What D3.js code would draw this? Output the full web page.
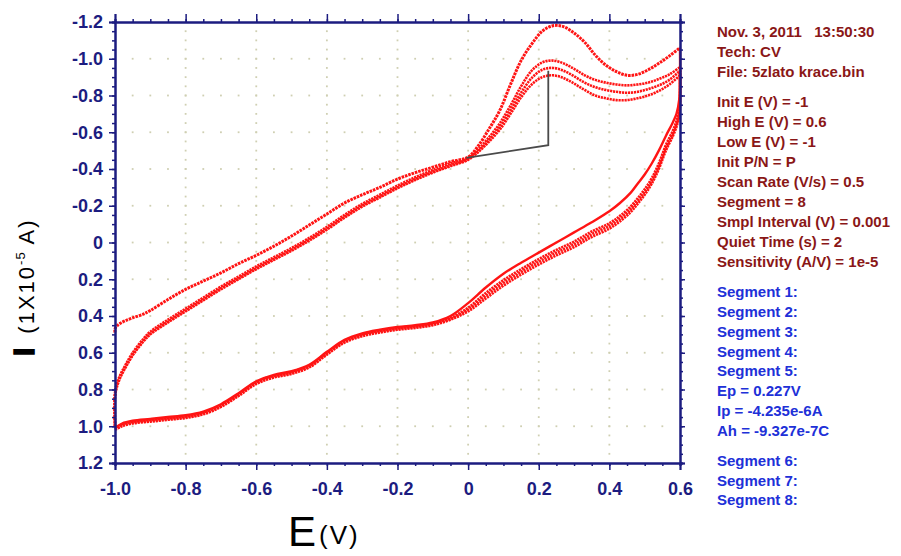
<!DOCTYPE html>
<html><head><meta charset="utf-8">
<script src="https://cdn.jsdelivr.net/npm/d3@7"></script>
<style>body{margin:0;background:#fff}svg{display:block}</style>
</head><body>
<svg id="c" width="901" height="556"></svg>
<script>
// ---------- data ----------
const xTickLabels = ["-1.0","-0.8","-0.6","-0.4","-0.2","0","0.2","0.4","0.6"];
const xTickValues = [-1.0,-0.8,-0.6,-0.4,-0.2,0,0.2,0.4,0.6];
const yTickLabels = ["-1.2","-1.0","-0.8","-0.6","-0.4","-0.2","0","0.2","0.4","0.6","0.8","1.0","1.2"];
const yTickValues = [-1.2,-1.0,-0.8,-0.6,-0.4,-0.2,0,0.2,0.4,0.6,0.8,1.0,1.2];

// forward scans (E from -1 to 0.6)
const E_fwd = [-1.0,-1.0,-0.995,-0.985,-0.97,-0.95,-0.92,-0.9,-0.85,-0.8,-0.75,-0.7,-0.65,-0.6,-0.55,-0.5,-0.45,-0.4,-0.35,-0.3,-0.25,-0.2,-0.15,-0.1,-0.05,0,0.03,0.06,0.09,0.12,0.15,0.18,0.21,0.24,0.27,0.3,0.33,0.36,0.39,0.42,0.45,0.48,0.51,0.54,0.57,0.6];
const seg1 = [0.49,0.47,0.455,0.44,0.425,0.41,0.39,0.37,0.31,0.255,0.21,0.165,0.115,0.07,0.02,-0.035,-0.095,-0.155,-0.215,-0.26,-0.30,-0.345,-0.38,-0.41,-0.44,-0.465,-0.53,-0.62,-0.72,-0.86,-0.99,-1.08,-1.15,-1.18,-1.175,-1.14,-1.09,-1.02,-0.965,-0.93,-0.91,-0.915,-0.94,-0.975,-1.015,-1.06];
const seg3 = [1.0,0.82,0.77,0.72,0.665,0.6,0.525,0.485,0.42,0.36,0.30,0.24,0.185,0.13,0.08,0.03,-0.025,-0.085,-0.15,-0.21,-0.26,-0.31,-0.355,-0.395,-0.43,-0.46,-0.51,-0.575,-0.65,-0.745,-0.85,-0.935,-0.98,-0.99,-0.975,-0.945,-0.91,-0.885,-0.87,-0.86,-0.855,-0.86,-0.87,-0.89,-0.915,-0.955];
const seg5 = [1.0,0.83,0.78,0.73,0.675,0.61,0.535,0.495,0.43,0.37,0.31,0.25,0.195,0.14,0.09,0.04,-0.015,-0.075,-0.14,-0.2,-0.25,-0.3,-0.345,-0.385,-0.42,-0.455,-0.5,-0.56,-0.63,-0.72,-0.815,-0.895,-0.94,-0.95,-0.935,-0.905,-0.87,-0.845,-0.83,-0.82,-0.815,-0.82,-0.835,-0.855,-0.885,-0.935];
const seg7 = [1.0,0.84,0.79,0.735,0.68,0.615,0.54,0.5,0.435,0.375,0.315,0.255,0.2,0.145,0.095,0.045,-0.01,-0.07,-0.135,-0.195,-0.245,-0.295,-0.34,-0.38,-0.415,-0.45,-0.495,-0.55,-0.615,-0.7,-0.79,-0.86,-0.9,-0.91,-0.895,-0.865,-0.83,-0.80,-0.785,-0.775,-0.775,-0.785,-0.80,-0.825,-0.86,-0.91];

// reverse scans (E from 0.6 to -1)
const E_rev = [0.6,0.6,0.598,0.59,0.58,0.56,0.54,0.52,0.5,0.48,0.46,0.43,0.4,0.35,0.3,0.25,0.2,0.15,0.1,0.05,0,-0.05,-0.1,-0.15,-0.2,-0.25,-0.3,-0.35,-0.4,-0.45,-0.5,-0.55,-0.6,-0.65,-0.7,-0.75,-0.8,-0.85,-0.9,-0.95,-0.98,-1.0];
const seg2 = [-1.06,-0.88,-0.78,-0.70,-0.655,-0.58,-0.50,-0.43,-0.37,-0.32,-0.27,-0.215,-0.17,-0.11,-0.055,0.0,0.055,0.11,0.17,0.245,0.33,0.40,0.435,0.45,0.46,0.475,0.495,0.53,0.595,0.665,0.70,0.72,0.755,0.82,0.88,0.92,0.94,0.95,0.96,0.97,0.985,1.01];
const seg4 = [-0.955,-0.80,-0.72,-0.66,-0.61,-0.53,-0.43,-0.35,-0.29,-0.24,-0.195,-0.145,-0.105,-0.06,-0.005,0.04,0.09,0.145,0.205,0.275,0.355,0.41,0.44,0.455,0.465,0.48,0.5,0.535,0.6,0.67,0.705,0.725,0.76,0.825,0.885,0.925,0.945,0.955,0.965,0.975,0.99,1.01];
const seg6 = [-0.935,-0.78,-0.705,-0.645,-0.595,-0.515,-0.415,-0.335,-0.275,-0.225,-0.18,-0.13,-0.09,-0.045,0.01,0.055,0.105,0.16,0.22,0.29,0.365,0.415,0.445,0.46,0.47,0.485,0.505,0.54,0.605,0.675,0.71,0.73,0.765,0.83,0.89,0.93,0.95,0.96,0.97,0.98,0.995,1.015];
const seg8 = [-0.91,-0.76,-0.69,-0.63,-0.58,-0.50,-0.40,-0.32,-0.26,-0.21,-0.165,-0.115,-0.075,-0.03,0.025,0.07,0.12,0.175,0.235,0.305,0.375,0.42,0.45,0.465,0.475,0.49,0.51,0.545,0.61,0.68,0.715,0.735,0.77,0.835,0.895,0.935,0.955,0.965,0.975,0.985,1.0,1.02];

// peak baseline marker
const baseE = [-0.005, 0.227, 0.227];
const baseI = [-0.46, -0.53, -0.935];

const infoRed = ["Nov. 3, 2011   13:50:30","Tech: CV","File: 5zlato krace.bin"];
const infoParams = ["Init E (V) = -1","High E (V) = 0.6","Low E (V) = -1","Init P/N = P","Scan Rate (V/s) = 0.5","Segment = 8","Smpl Interval (V) = 0.001","Quiet Time (s) = 2","Sensitivity (A/V) = 1e-5"];
const infoBlue1 = ["Segment 1:","Segment 2:","Segment 3:","Segment 4:","Segment 5:","Ep = 0.227V","Ip = -4.235e-6A","Ah = -9.327e-7C"];
const infoBlue2 = ["Segment 6:","Segment 7:","Segment 8:"];

// ---------- drawing ----------
const svg = d3.select("#c");
const L = 115, R = 680, T = 22, B = 463;
const x = d3.scaleLinear().domain([-1.0, 0.6]).range([L, R]);
const y = d3.scaleLinear().domain([-1.2, 1.2]).range([T, B]);
const navy = "#1c1c80";
const font = "'Liberation Sans', Arial, sans-serif";

// grid dots
const gGrid = svg.append("g").attr("fill", "#cfcfb2");
const vLines = xTickValues.slice(1, -1);
const hLines = yTickValues.slice(1, -1);
const yMinor = d3.range(-1.15, 1.16, 0.05);
const xMinor = d3.range(-0.95, 0.56, 0.05);
vLines.forEach(v => yMinor.forEach(u => gGrid.append("rect").attr("x", x(v) - 0.9).attr("y", y(u) - 0.9).attr("width", 1.8).attr("height", 1.8)));
hLines.forEach(u => xMinor.forEach(v => gGrid.append("rect").attr("x", x(v) - 0.9).attr("y", y(u) - 0.9).attr("width", 1.8).attr("height", 1.8)));

// curves
const line = d3.line().x(d => x(d[0])).y(d => y(d[1])).curve(d3.curveCatmullRom.alpha(0.5));
const red = "#ff1414";
function drawSeg(E, I, w, dash) {
  const pts = E.map((e, i) => [e, I[i]]);
  const p = svg.append("path").datum(pts).attr("d", line).attr("fill", "none")
    .attr("stroke", red).attr("stroke-width", w).attr("stroke-linejoin", "round");
  if (dash) p.attr("stroke-dasharray", dash);
}
drawSeg(E_rev, seg8, 2.6, "2.2,0.8");
drawSeg(E_rev, seg6, 2.6, "2.2,0.8");
drawSeg(E_rev, seg4, 2.6, "2.2,0.8");
drawSeg(E_rev, seg2, 2.4, null);
drawSeg(E_fwd, seg7, 2.6, "2.2,0.8");
drawSeg(E_fwd, seg5, 2.6, "2.2,0.8");
drawSeg(E_fwd, seg3, 2.6, "2.2,0.8");
drawSeg(E_fwd, seg1, 3.0, "2.6,0.9");

// baseline
svg.append("path").datum(baseE.map((e, i) => [e, baseI[i]]))
  .attr("d", d3.line().x(d => x(d[0])).y(d => y(d[1])))
  .attr("fill", "none").attr("stroke", "#4a4a4a").attr("stroke-width", 1.8);

// axes
function styleAxis(g) {
  g.selectAll(".domain").attr("stroke", navy).attr("stroke-width", 2);
  g.selectAll(".tick line").attr("stroke", navy).attr("stroke-width", 1.5);
}
const xMinorT = d3.range(-1.0, 0.61, 0.05);
const yMinorT = d3.range(-1.2, 1.21, 0.05);
[[d3.axisTop(x).tickValues(xMinorT), T], [d3.axisBottom(x).tickValues(xMinorT), B]].forEach(([ax, pos]) => {
  styleAxis(svg.append("g").attr("transform", `translate(0,${pos})`).call(ax.tickSize(3).tickFormat("")));
});
[[d3.axisLeft(y).tickValues(yMinorT), L], [d3.axisRight(y).tickValues(yMinorT), R]].forEach(([ax, pos]) => {
  styleAxis(svg.append("g").attr("transform", `translate(${pos},0)`).call(ax.tickSize(3).tickFormat("")));
});
const gxTop = svg.append("g").attr("transform", `translate(0,${T})`)
  .call(d3.axisTop(x).tickValues(xTickValues).tickSize(8).tickFormat(""));
styleAxis(gxTop);
const gxB = svg.append("g").attr("transform", `translate(0,${B})`)
  .call(d3.axisBottom(x).tickValues(xTickValues).tickSize(7).tickPadding(8).tickFormat((d, i) => xTickLabels[i]));
styleAxis(gxB);
gxB.selectAll("text").attr("font-family", font).attr("font-weight", "bold").attr("font-size", 18).attr("fill", navy).attr("y", 19);
const gyL = svg.append("g").attr("transform", `translate(${L},0)`)
  .call(d3.axisLeft(y).tickValues(yTickValues).tickSize(6).tickPadding(6).tickFormat((d, i) => yTickLabels[i]));
styleAxis(gyL);
gyL.selectAll("text").attr("font-family", font).attr("font-weight", "bold").attr("font-size", 18).attr("fill", navy);
const gyR = svg.append("g").attr("transform", `translate(${R},0)`)
  .call(d3.axisRight(y).tickValues(yTickValues).tickSize(5).tickFormat(""));
styleAxis(gyR);

// axis titles
const xt = svg.append("text").attr("x", 288).attr("y", 546).attr("font-family", font).attr("fill", "#000");
xt.append("tspan").attr("font-size", 42).text("E");
xt.append("tspan").attr("font-size", 26).attr("dx", 3).attr("dy", -2).attr("letter-spacing", 2).text("(V)");

const yt = svg.append("text").attr("transform", "translate(34,356) rotate(-90)").attr("font-family", font).attr("fill", "#000");
yt.append("tspan").attr("font-size", 30).attr("font-weight", "bold").attr("stroke", "#000").attr("stroke-width", 1.5).text("I");
yt.append("tspan").attr("font-size", 22).attr("dx", 14).attr("letter-spacing", 2).text("(1X10");
yt.append("tspan").attr("font-size", 13).attr("dy", -9).attr("letter-spacing", 1).text("-5");
yt.append("tspan").attr("font-size", 22).attr("dy", 9).attr("letter-spacing", 2).text(" A)");

// info panel
const darkRed = "#8a1717", blue = "#2030d8";
function info(lines, y0, step, color) {
  svg.append("g").selectAll("text").data(lines).join("text")
    .attr("x", 717).attr("y", (d, i) => y0 + i * step)
    .attr("font-family", font).attr("font-weight", "bold").attr("font-size", 15)
    .attr("fill", color).style("white-space", "pre").text(d => d);
}
info(infoRed, 37, 20, darkRed);
info(infoParams, 106.5, 20.1, darkRed);
info(infoBlue1, 297, 19.85, blue);
info(infoBlue2, 466, 19.7, blue);
</script>
</body></html>
